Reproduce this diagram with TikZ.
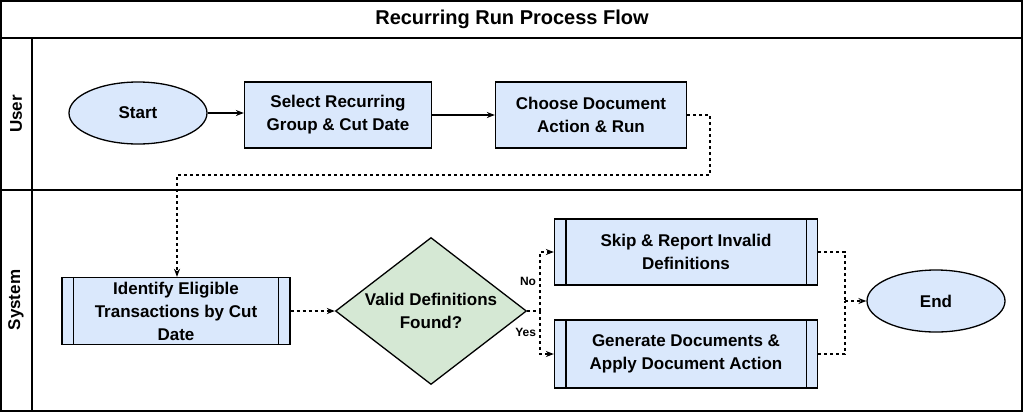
\documentclass[tikz,border=0pt]{standalone}
\usepackage{fontspec}
\setmainfont{Liberation Sans}
\usetikzlibrary{shapes.geometric,arrows.meta,positioning}
\definecolor{boxblue}{HTML}{DAE8FC}
\definecolor{diagreen}{HTML}{D5E8D4}
\tikzset{
  every node/.style={font=\bfseries\fontsize{17}{23}\selectfont,align=center},
  stepbox/.style={draw,fill=boxblue,line width=1.3pt,inner sep=0pt},
  termbox/.style={draw,fill=boxblue,line width=1.3pt,ellipse,minimum width=138pt,minimum height=62pt},
  decide/.style={draw,fill=diagreen,line width=1.3pt,diamond,aspect=1.3,minimum width=191pt,minimum height=147pt,inner sep=0pt},
  flow/.style={-{Stealth[length=8pt]},line width=1.3pt},
  dflow/.style={-{Stealth[length=8pt]},line width=1.3pt,dashed},
}
\begin{document}
\begin{tikzpicture}[x=1pt,y=-1pt]
\useasboundingbox (0,0) rectangle (1024,413);
% lanes
\draw[line width=1.3pt] (1,1) rectangle (1022,411);
\draw[line width=1.3pt] (1,38) -- (1022,38);
\draw[line width=1.3pt] (1,190) -- (1022,190);
\draw[line width=1.3pt] (32,38) -- (32,411);
\node[font=\bfseries\fontsize{20}{24}\selectfont] (title) at (512,19) {Recurring Run Process Flow};
\node[rotate=90] (user) at (16,114) {User};
\node[rotate=90] (system) at (16,300) {System};
% nodes
\node[termbox] (start) at (138,113) {Start};
\node[stepbox,minimum width=187pt,minimum height=66pt] (select) at (338,115) {Select Recurring\\Group \& Cut Date};
\node[stepbox,minimum width=191pt,minimum height=66pt] (choose) at (591,115) {Choose Document\\Action \& Run};
\node[stepbox,minimum width=228pt,minimum height=67pt] (ident) at (176,311) {Identify Eligible\\Transactions by Cut\\Date};
\node[decide] (valid) at (431,311) {Valid Definitions\\Found?};
\node[stepbox,minimum width=263pt,minimum height=66pt] (skip) at (686,252) {Skip \& Report Invalid\\Definitions};
\node[stepbox,minimum width=263pt,minimum height=68pt] (gen) at (686,354) {Generate Documents \&\\Apply Document Action};
\node[termbox] (end) at (936,301) {End};
% process side bars
\foreach \b in {ident,skip,gen} {
  \draw[line width=1.3pt] ([xshift=12pt]\b.north west) -- ([xshift=12pt]\b.south west);
  \draw[line width=1.3pt] ([xshift=-12pt]\b.north east) -- ([xshift=-12pt]\b.south east);
}
% connectors
\coordinate (c1) at (710,115);
\coordinate (c2) at (710,175);
\coordinate (c3) at (177,175);
\coordinate (split) at (540,311);
\coordinate (join) at (845,301);
\draw[flow] (start.east) -- (select.west |- start.east);
\draw[flow] (select) -- (choose);
\draw[dflow] (choose.east) -- (c1) -- (c2) -- (c3) -- (ident.north -| c3);
\draw[dflow] (ident) -- (valid);
\draw[line width=1.3pt,dashed] (valid.east) -- (split);
\draw[dflow] (split) |- node[pos=0.25,left,font=\bfseries\fontsize{12}{14}\selectfont]{No} (skip.west);
\draw[dflow] (split) |- node[pos=0.25,left,font=\bfseries\fontsize{12}{14}\selectfont]{Yes} (gen.west);
\draw[line width=1.3pt,dashed] (skip.east) -| (join);
\draw[line width=1.3pt,dashed] (gen.east) -| (join);
\draw[dflow] (join) -- (end);
\end{tikzpicture}
\end{document}
